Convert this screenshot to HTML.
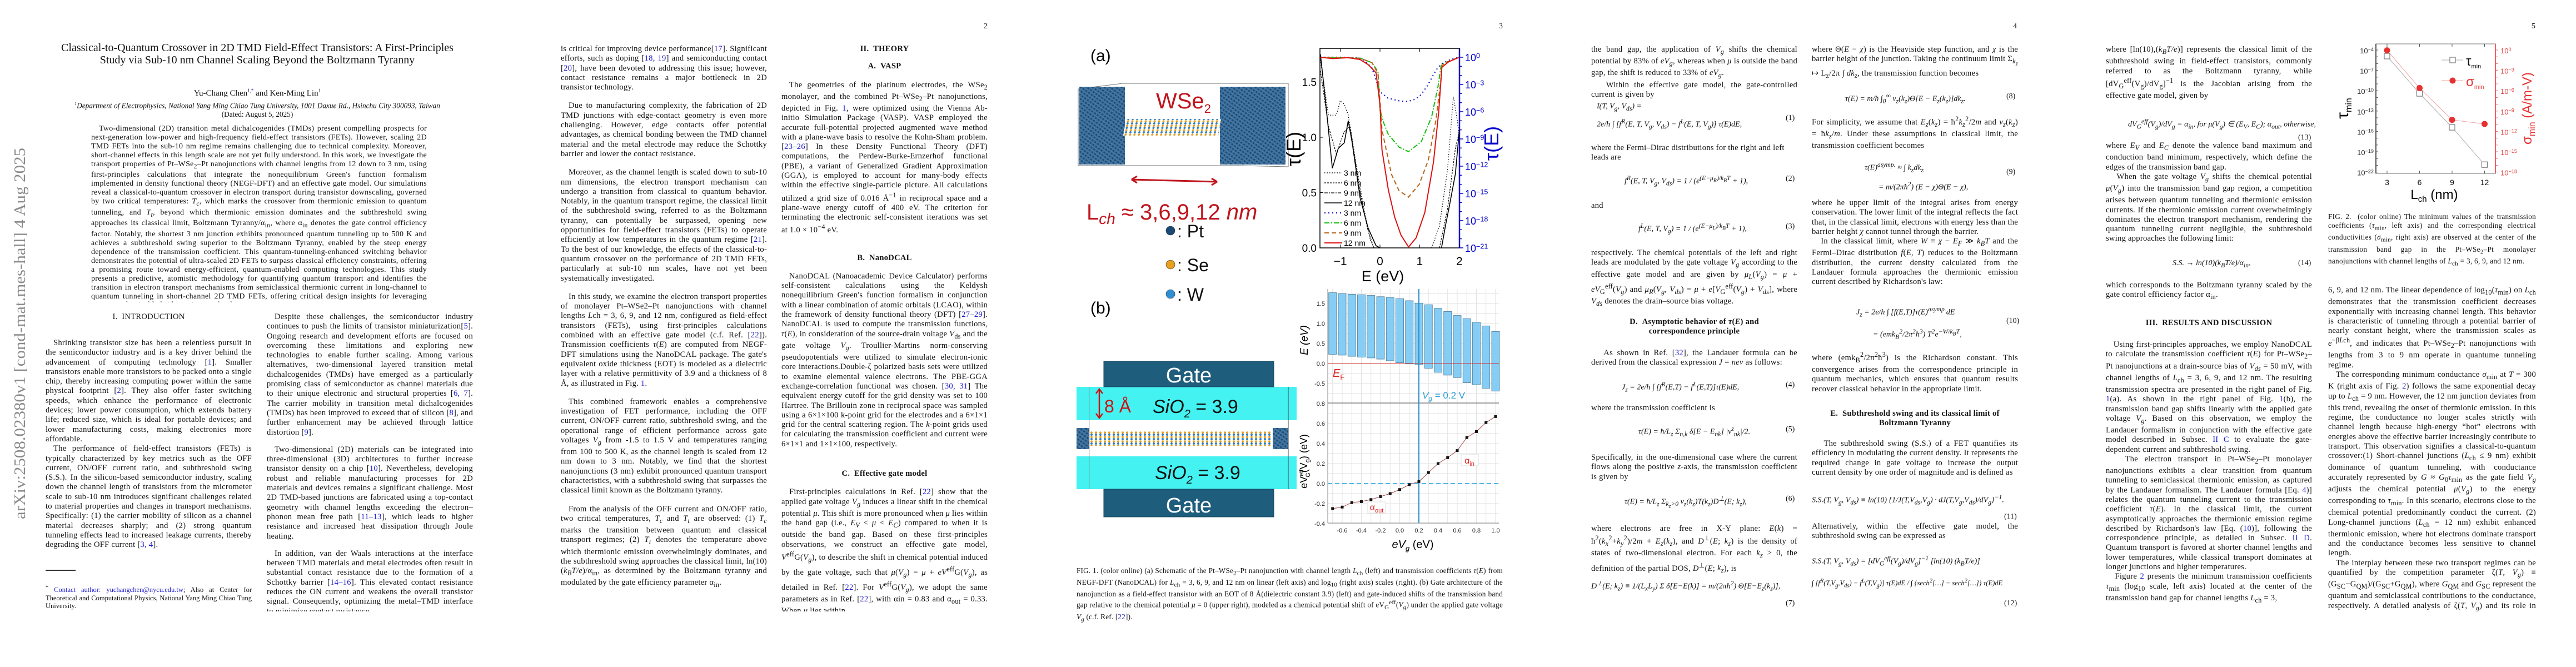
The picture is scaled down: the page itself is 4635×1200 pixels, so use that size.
<!DOCTYPE html>
<html><head><meta charset="utf-8">
<style>
html,body{margin:0;padding:0;background:#fff;}
body{width:4635px;height:1200px;position:relative;overflow:hidden;font-family:"Liberation Serif",serif;color:#111;}
.col{position:absolute;width:371px;font-size:14.6px;letter-spacing:0.25px;line-height:17.3px;text-align:justify;hyphens:auto;overflow:hidden;}
.col p{margin:0;text-indent:14px;}
.col p.ni{text-indent:0;}
.h{text-align:center;font-weight:bold;text-indent:0 !important;}
.abs{position:absolute;font-size:14.6px;letter-spacing:0.25px;line-height:17.3px;}
.eq{position:absolute;font-style:italic;font-size:14px;white-space:nowrap;}
.num{position:absolute;font-size:14px;}
a,.ref{color:#1a1acc;}
.pn{position:absolute;top:40px;font-size:14px;}
svg text{font-family:"Liberation Sans",sans-serif;}
</style></head>
<body>

<div style="position:absolute;left:17px;top:264px;width:34px;height:670px;">
<svg width="34" height="670" style="position:absolute;left:0;top:0"><text transform="translate(28,670) rotate(-90)" font-size="29" fill="#8a8a8a" textLength="668" lengthAdjust="spacingAndGlyphs" style="font-family:'Liberation Serif',serif">arXiv:2508.02380v1  [cond-mat.mes-hall]  4 Aug 2025</text></svg>
</div>

<div style="position:absolute;left:100px;top:76px;width:726px;text-align:center;font-size:20px;line-height:21.5px;">Classical-to-Quantum Crossover in 2D TMD Field-Effect Transistors: A First-Principles Study via Sub-10 nm Channel Scaling Beyond the Boltzmann Tyranny</div>
<div style="position:absolute;left:100px;top:158px;width:726px;text-align:center;font-size:15px;">Yu-Chang Chen<sup style="font-size:9px">1,<span class="ref">*</span></sup> and Ken-Ming Lin<sup style="font-size:9px">1</sup></div>
<div style="position:absolute;left:60px;top:182px;width:806px;text-align:center;font-size:13.3px;font-style:italic;"><sup style="font-size:8px">1</sup>Department of Electrophysics, National Yang Ming Chiao Tung University, 1001 Daxue Rd., Hsinchu City 300093, Taiwan</div>
<div style="position:absolute;left:100px;top:198px;width:726px;text-align:center;font-size:13.3px;">(Dated: August 5, 2025)</div>
<div style="position:absolute;left:164px;top:224px;width:604px;font-size:14px;letter-spacing:0.3px;line-height:15.9px;text-align:justify;text-indent:14px;height:320px;overflow:hidden;">Two-dimensional (2D) transition metal dichalcogenides (TMDs) present compelling prospects for next-generation low-power and high-frequency field-effect transistors (FETs). However, scaling 2D TMD FETs into the sub-10 nm regime remains challenging due to technical complexity. Moreover, short-channel effects in this length scale are not yet fully understood. In this work, we investigate the transport properties of Pt–WSe<sub>2</sub>–Pt nanojunctions with channel lengths from 12 down to 3 nm, using first-principles calculations that integrate the nonequilibrium Green's function formalism implemented in density functional theory (NEGF-DFT) and an effective gate model. Our simulations reveal a classical-to-quantum crossover in electron transport during transistor downscaling, governed by two critical temperatures: <i>T<sub>c</sub></i>, which marks the crossover from thermionic emission to quantum tunneling, and <i>T<sub>t</sub></i>, beyond which thermionic emission dominates and the subthreshold swing approaches its classical limit, Boltzmann Tyranny/α<sub>in</sub>, where α<sub>in</sub> denotes the gate control efficiency factor. Notably, the shortest 3 nm junction exhibits pronounced quantum tunneling up to 500 K and achieves a subthreshold swing superior to the Boltzmann Tyranny, enabled by the steep energy dependence of the transmission coefficient. This quantum-tunneling-enhanced switching behavior demonstrates the potential of ultra-scaled 2D FETs to surpass classical efficiency constraints, offering a promising route toward energy-efficient, quantum-enabled computing technologies. This study presents a predictive, atomistic methodology for quantifying quantum transport and identifies the transition in electron transport mechanisms from semiclassical thermionic current in long-channel to quantum tunneling in short-channel 2D TMD FETs, offering critical design insights for leveraging quantum-classical hybrid transistor technology.</div>

<div class="abs" style="left:82px;top:562px;width:371px;text-align:center;">I.&nbsp;&nbsp;INTRODUCTION</div>

<div class="col" style="left:82px;top:609px;height:398px;">
<p>Shrinking transistor size has been a relentless pursuit in the semiconductor industry and is a key driver behind the advancement of computing technology [<span class="ref">1</span>]. Smaller transistors enable more transistors to be packed onto a single chip, thereby increasing computing power within the same physical footprint [<span class="ref">2</span>]. They also offer faster switching speeds, which enhance the performance of electronic devices; lower power consumption, which extends battery life; reduced size, which is ideal for portable devices; and lower manufacturing costs, making electronics more affordable.</p>
<p>The performance of field-effect transistors (FETs) is typically characterized by key metrics such as the OFF current, ON/OFF current ratio, and subthreshold swing (S.S.). In the silicon-based semiconductor industry, scaling down the channel length of transistors from the micrometer scale to sub-10 nm introduces significant challenges related to material properties and changes in transport mechanisms. Specifically: (1) the carrier mobility of silicon as a channel material decreases sharply; and (2) strong quantum tunneling effects lead to increased leakage currents, thereby degrading the OFF current [<span class="ref">3, 4</span>].</p>
</div>
<div style="position:absolute;left:82px;top:1025px;width:54px;height:2px;background:#333;"></div>
<div style="position:absolute;left:82px;top:1051px;width:371px;font-size:12.5px;line-height:14.5px;text-align:justify;"><sup>*</sup> <span class="ref">Contact author: yuchangchen@nycu.edu.tw</span>; Also at Center for Theoretical and Computational Physics, National Yang Ming Chiao Tung University.</div>

<div class="col" style="left:480px;top:562px;height:538px;">
<p>Despite these challenges, the semiconductor industry continues to push the limits of transistor miniaturization[<span class="ref">5</span>]. Ongoing research and development efforts are focused on overcoming these limitations and exploring new technologies to enable further scaling. Among various alternatives, two-dimensional layered transition metal dichalcogenides (TMDs) have emerged as a particularly promising class of semiconductor as channel materials due to their unique electronic and structural properties [<span class="ref">6, 7</span>]. The carrier mobility in transition metal dichalcogenides (TMDs) has been improved to exceed that of silicon [<span class="ref">8</span>], and further enhancement may be achieved through lattice distortion [<span class="ref">9</span>].</p>
<p style="margin-top:14px">Two-dimensional (2D) materials can be integrated into three-dimensional (3D) architectures to further increase transistor density on a chip [<span class="ref">10</span>]. Nevertheless, developing robust and reliable manufacturing processes for 2D materials and devices remains a significant challenge. Most 2D TMD-based junctions are fabricated using a top-contact geometry with channel lengths exceeding the electron–phonon mean free path [<span class="ref">11–13</span>], which leads to higher resistance and increased heat dissipation through Joule heating.</p>
<p style="margin-top:14px">In addition, van der Waals interactions at the interface between TMD materials and metal electrodes often result in substantial contact resistance due to the formation of a Schottky barrier [<span class="ref">14–16</span>]. This elevated contact resistance reduces the ON current and weakens the overall transistor signal. Consequently, optimizing the metal–TMD interface to minimize contact resistance</p>
</div>

<div class="col" style="left:1009px;top:80px;height:1020px;">
<p class="ni">is critical for improving device performance[<span class="ref">17</span>]. Significant efforts, such as doping [<span class="ref">18, 19</span>] and semiconducting contact [<span class="ref">20</span>], have been devoted to addressing this issue; however, contact resistance remains a major bottleneck in 2D transistor technology.</p>
<p style="margin-top:16px">Due to manufacturing complexity, the fabrication of 2D TMD junctions with edge-contact geometry is even more challenging. However, edge contacts offer potential advantages, as chemical bonding between the TMD channel material and the metal electrode may reduce the Schottky barrier and lower the contact resistance.</p>
<p style="margin-top:16px">Moreover, as the channel length is scaled down to sub-10 nm dimensions, the electron transport mechanism can undergo a transition from classical to quantum behavior. Notably, in the quantum transport regime, the classical limit of the subthreshold swing, referred to as the Boltzmann tyranny, can potentially be surpassed, opening new opportunities for field-effect transistors (FETs) to operate efficiently at low temperatures in the quantum regime [<span class="ref">21</span>]. To the best of our knowledge, the effects of the classical-to-quantum crossover on the performance of 2D TMD FETs, particularly at sub-10 nm scales, have not yet been systematically investigated.</p>
<p style="margin-top:16px">In this study, we examine the electron transport properties of monolayer Pt–WSe2–Pt nanojunctions with channel lengths <i>L</i>ch = 3, 6, 9, and 12 nm, configured as field-effect transistors (FETs), using first-principles calculations combined with an effective gate model (c.f. Ref. [<span class="ref">22</span>]). Transmission coefficients <i>τ</i>(<i>E</i>) are computed from NEGF-DFT simulations using the NanoDCAL package. The gate's equivalent oxide thickness (EOT) is modeled as a dielectric layer with a relative permittivity of 3.9 and a thickness of 8 Å, as illustrated in Fig. <span class="ref">1</span>.</p>
<p style="margin-top:16px">This combined framework enables a comprehensive investigation of FET performance, including the OFF current, ON/OFF current ratio, subthreshold swing, and the operational range of efficient performance across gate voltages <i>V<sub>g</sub></i> from -1.5 to 1.5 V and temperatures ranging from 100 to 500 K, as the channel length is scaled from 12 nm down to 3 nm. Notably, we find that the shortest nanojunctions (3 nm) exhibit pronounced quantum transport characteristics, with a subthreshold swing that surpasses the classical limit known as the Boltzmann tyranny.</p>
<p style="margin-top:16px">From the analysis of the OFF current and ON/OFF ratio, two critical temperatures, <i>T<sub>c</sub></i> and <i>T<sub>t</sub></i> are observed: (1) <i>T<sub>c</sub></i> marks the transition between quantum and classical transport regimes; (2) <i>T<sub>t</sub></i> denotes the temperature above which thermionic emission overwhelmingly dominates, and the subthreshold swing approaches the classical limit, ln(10)(<i>k<sub>B</sub>T/e</i>)/α<sub>in</sub>, as determined by the Boltzmann tyranny and modulated by the gate efficiency parameter α<sub>in</sub>.</p>
</div>

<div class="pn" style="left:1770px;">2</div>
<div class="col" style="left:1406px;top:80px;height:1020px;">
<p class="h">II.&nbsp;&nbsp;THEORY</p>
<p class="h" style="margin-top:14px;">A.&nbsp;&nbsp;VASP</p>
<p style="margin-top:16px">The geometries of the platinum electrodes, the WSe<sub>2</sub> monolayer, and the combined Pt–WSe<sub>2</sub>–Pt nanojunctions, depicted in Fig. <span class="ref">1</span>, were optimized using the Vienna Ab-initio Simulation Package (VASP). VASP employed the accurate full-potential projected augmented wave method with a plane-wave basis to resolve the Kohn-Sham problem.[<span class="ref">23–26</span>] In these Density Functional Theory (DFT) computations, the Perdew-Burke-Ernzerhof functional (PBE), a variant of Generalized Gradient Approximation (GGA), is employed to account for many-body effects within the effective single-particle picture. All calculations utilized a grid size of 0.016 Å<sup>−1</sup> in reciprocal space and a plane-wave energy cutoff of 400 eV. The criterion for terminating the electronic self-consistent iterations was set at 1.0 × 10<sup>−4</sup> eV.</p>
<p class="h" style="margin-top:32px;">B.&nbsp;&nbsp;NanoDCAL</p>
<p style="margin-top:16px">NanoDCAL (Nanoacademic Device Calculator) performs self-consistent calculations using the Keldysh nonequilibrium Green's function formalism in conjunction with a linear combination of atomic orbitals (LCAO), within the framework of density functional theory (DFT) [<span class="ref">27–29</span>]. NanoDCAL is used to compute the transmission functions, <i>τ</i>(<i>E</i>), in consideration of the source-drain voltage <i>V</i><sub>ds</sub> and the gate voltage <i>V<sub>g</sub></i>. Troullier-Martins norm-conserving pseudopotentials were utilized to simulate electron-ionic core interactions.Double-ζ polarized basis sets were utilized to examine elemental valence electrons. The PBE-GGA exchange-correlation functional was chosen. [<span class="ref">30, 31</span>] The equivalent energy cutoff for the grid density was set to 100 Hartree. The Brillouin zone in reciprocal space was sampled using a 6×1×100 k-point grid for the electrodes and a 6×1×1 grid for the central scattering region. The <i>k</i>-point grids used for calculating the transmission coefficient and current were 6×1×1 and 1×1×100, respectively.</p>
<p class="h" style="margin-top:36px;">C.&nbsp;&nbsp;Effective gate model</p>
<p style="margin-top:16px">First-principles calculations in Ref. [<span class="ref">22</span>] show that the applied gate voltage <i>V<sub>g</sub></i> induces a linear shift in the chemical potential <i>μ</i>. This shift is more pronounced when <i>μ</i> lies within the band gap (i.e., <i>E<sub>V</sub></i> &lt; <i>μ</i> &lt; <i>E<sub>C</sub></i>) compared to when it is outside the band gap. Based on these first-principles observations, we construct an effective gate model, <i>V</i><sup>eff</sup>G(<i>V<sub>g</sub></i>), to describe the shift in chemical potential induced by the gate voltage, such that <i>μ</i>(<i>V<sub>g</sub></i>) = <i>μ</i> + <i>eV</i><sup>eff</sup>G(<i>V<sub>g</sub></i>), as detailed in Ref. [<span class="ref">22</span>]. For <i>V</i><sup>eff</sup>G(<i>V<sub>g</sub></i>), we adopt the same parameters as in Ref. [<span class="ref">22</span>], with αin = 0.83 and α<sub>out</sub> = 0.33. When <i>μ</i> lies within</p>
</div>

<div class="pn" style="left:2697px;">3</div>
<div class="pn" style="left:3622px;">4</div>
<div class="pn" style="left:4555px;">5</div>

<div style="position:absolute;left:1937px;top:1019px;width:767px;font-size:13.2px;letter-spacing:0.2px;line-height:15.6px;text-align:justify;">FIG. 1. (color online) (a) Schematic of the Pt–WSe<sub>2</sub>–Pt nanojunction with channel length <i>L</i><sub>ch</sub> (left) and transmission coefficients <i>τ</i>(<i>E</i>) from NEGF-DFT (NanoDCAL) for <i>L</i><sub>ch</sub> = 3, 6, 9, and 12 nm on linear (left axis) and log<sub>10</sub> (right axis) scales (right). (b) Gate architecture of the nanojunction as a field-effect transistor with an EOT of 8 Å(dielectric constant 3.9) (left) and gate-induced shifts of the transmission band gap relative to the chemical potential <i>μ</i> = 0 (upper right), modeled as a chemical potential shift of eV<sub>G</sub><sup>eff</sup>(<i>V<sub>g</sub></i>) under the applied gate voltage <i>V<sub>g</sub></i> (c.f. Ref. [<span class="ref">22</span>]).</div>

<div style="position:absolute;left:2863px;top:0;width:371px;height:1200px;">
<div class="abs" style="top:81px;width:371px;text-align:justify;">the band gap, the application of <i>V<sub>g</sub></i> shifts the chemical potential by 83% of <i>eV<sub>g</sub></i>, whereas when <i>μ</i> is outside the band gap, the shift is reduced to 33% of <i>eV<sub>g</sub></i>.<br>&nbsp;&nbsp;&nbsp;Within the effective gate model, the gate-controlled current is given by</div>
<div class="eq" style="left:10px;top:184px;">I(T, V<sub>g</sub>, V<sub>ds</sub>) =</div>
<div class="eq" style="left:10px;top:212px;">2e/h ∫ [f<sup>R</sup>(E, T, V<sub>g</sub>, V<sub>ds</sub>) − f<sup>L</sup>(E, T, V<sub>g</sub>)] τ(E)dE,</div><div class="num" style="left:350px;top:205px;">(1)</div>
<div class="abs" style="top:258px;width:371px;">where the Fermi–Dirac distributions for the right and left leads are</div>
<div class="eq" style="left:60px;top:314px;">f<sup>R</sup>(E, T, V<sub>g</sub>, V<sub>ds</sub>) = 1 / (e<sup>(E−μ<sub>R</sub>)/k<sub>B</sub>T</sup> + 1),</div><div class="num" style="left:350px;top:314px;">(2)</div>
<div class="abs" style="top:362px;">and</div>
<div class="eq" style="left:85px;top:400px;">f<sup>L</sup>(E, T, V<sub>g</sub>) = 1 / (e<sup>(E−μ<sub>L</sub>)/k<sub>B</sub>T</sup> + 1),</div><div class="num" style="left:350px;top:400px;">(3)</div>
<div class="abs" style="top:447px;width:371px;text-align:justify;">respectively. The chemical potentials of the left and right leads are modulated by the gate voltage <i>V<sub>g</sub></i> according to the effective gate model and are given by <i>μ<sub>L</sub></i>(<i>V<sub>g</sub></i>) = <i>μ</i> + <i>eV</i><sub>G</sub><sup>eff</sup>(<i>V<sub>g</sub></i>) and <i>μ<sub>R</sub></i>(<i>V<sub>g</sub></i>, <i>V<sub>ds</sub></i>) = <i>μ</i> + <i>e</i>[<i>V</i><sub>G</sub><sup>eff</sup>(<i>V<sub>g</sub></i>) + <i>V<sub>ds</sub></i>], where <i>V<sub>ds</sub></i> denotes the drain–source bias voltage.</div>
<div class="abs" style="top:571px;width:371px;text-align:center;font-weight:bold;">D.&nbsp;&nbsp;Asymptotic behavior of <i>τ</i>(<i>E</i>) and<br>correspondence principle</div>
<div class="abs" style="top:627px;width:371px;text-align:justify;">&nbsp;&nbsp;&nbsp;As shown in Ref. [<span class="ref">32</span>], the Landauer formula can be derived from the classical expression <i>J</i> = <i>nev</i> as follows:</div>
<div class="eq" style="left:55px;top:685px;">J<sub>z</sub> = 2e/h ∫ [f<sup>R</sup>(E,T) − f<sup>L</sup>(E,T)]τ(E)dE,</div><div class="num" style="left:350px;top:685px;">(4)</div>
<div class="abs" style="top:726px;">where the transmission coefficient is</div>
<div class="eq" style="left:85px;top:765px;">τ(E) = ħ/L<sub>z</sub> Σ<sub>n,k</sub> δ[E − E<sub>nk</sub>] |v<sup>z</sup><sub>nk</sub>|/2.</div><div class="num" style="left:350px;top:765px;">(5)</div>
<div class="abs" style="top:815px;width:371px;text-align:justify;">Specifically, in the one-dimensional case where the current flows along the positive <i>z</i>-axis, the transmission coefficient is given by</div>
<div class="eq" style="left:60px;top:890px;">τ(E) = ħ/L<sub>z</sub> Σ<sub>k<sub>z</sub>&gt;0</sub> v<sub>z</sub>(k<sub>z</sub>)T(k<sub>z</sub>)D<sup>⊥</sup>(E; k<sub>z</sub>),</div><div class="num" style="left:350px;top:890px;">(6)</div>
<div class="abs" style="top:943px;width:371px;text-align:justify;">where electrons are free in X-Y plane: <i>E</i>(<i>k</i>) = ħ<sup>2</sup>(<i>k<sub>x</sub></i><sup>2</sup>+<i>k<sub>y</sub></i><sup>2</sup>)/2<i>m</i> + <i>E<sub>z</sub></i>(<i>k<sub>z</sub></i>), and <i>D</i><sup>⊥</sup>(<i>E</i>; <i>k<sub>z</sub></i>) is the density of states of two-dimensional electron. For each <i>k<sub>z</sub></i> &gt; 0, the definition of the partial DOS, <i>D</i><sup>⊥</sup>(<i>E</i>; <i>k<sub>z</sub></i>), is</div>
<div class="eq" style="left:0px;top:1042px;">D<sup>⊥</sup>(E; k<sub>z</sub>) ≡ 1/(L<sub>x</sub>L<sub>y</sub>) Σ δ[E−E(k)] = m/(2πħ<sup>2</sup>) Θ[E−E<sub>z</sub>(k<sub>z</sub>)],</div><div class="num" style="left:350px;top:1078px;">(7)</div>
</div>

<div style="position:absolute;left:3260px;top:0;width:371px;height:1200px;">
<div class="abs" style="top:81px;width:371px;text-align:justify;">where Θ(<i>E</i> − <i>χ</i>) is the Heaviside step function, and <i>χ</i> is the barrier height of the junction. Taking the continuum limit Σ<sub><i>k<sub>z</sub></i></sub> ↦ L<sub>z</sub>/2π ∫ <i>dk<sub>z</sub></i>, the transmission function becomes</div>
<div class="eq" style="left:60px;top:166px;">τ(E) = m/ħ ∫<sub>0</sub><sup>∞</sup> v<sub>z</sub>(k<sub>z</sub>)Θ[E − E<sub>z</sub>(k<sub>z</sub>)]dk<sub>z</sub>.</div><div class="num" style="left:350px;top:166px;">(8)</div>
<div class="abs" style="top:206px;width:371px;text-align:justify;">For simplicity, we assume that <i>E<sub>z</sub></i>(<i>k<sub>z</sub></i>) = ħ<sup>2</sup><i>k<sub>z</sub></i><sup>2</sup>/2<i>m</i> and <i>v<sub>z</sub></i>(<i>k<sub>z</sub></i>) = ħ<i>k<sub>z</sub></i>/<i>m</i>. Under these assumptions in classical limit, the transmission coefficient becomes</div>
<div class="eq" style="left:95px;top:290px;">τ(E)<sup>asymp.</sup> ≈ ∫ k<sub>z</sub>dk<sub>z</sub></div><div class="num" style="left:350px;top:302px;">(9)</div>
<div class="eq" style="left:120px;top:325px;">= m/(2πħ<sup>2</sup>) (E − χ)Θ(E − χ),</div>
<div class="abs" style="top:357px;width:371px;text-align:justify;">where he upper limit of the integral arises from energy conservation. The lower limit of the integral reflects the fact that, in the classical limit, electrons with energy less than the barrier height <i>χ</i> cannot tunnel through the barrier.<br>&nbsp;&nbsp;&nbsp;In the classical limit, where <i>W</i> ≡ <i>χ</i> − <i>E<sub>F</sub></i> ≫ <i>k<sub>B</sub>T</i> and the Fermi–Dirac distribution <i>f</i>(<i>E</i>, <i>T</i>) reduces to the Boltzmann distribution, the current density calculated from the Landauer formula approaches the thermionic emission current described by Richardson's law:</div>
<div class="eq" style="left:80px;top:550px;">J<sub>z</sub> = 2e/h ∫ [f(E,T)]τ(E)<sup>asymp.</sup>dE</div><div class="num" style="left:350px;top:570px;">(10)</div>
<div class="eq" style="left:110px;top:590px;">= (emk<sub>B</sub><sup>2</sup>/2π<sup>2</sup>ħ<sup>3</sup>) T<sup>2</sup>e<sup>−W/k<sub>B</sub>T</sup>,</div>
<div class="abs" style="top:630px;width:371px;text-align:justify;">where (emk<sub>B</sub><sup>2</sup>/2π<sup>2</sup>ħ<sup>3</sup>) is the Richardson constant. This convergence arises from the correspondence principle in quantum mechanics, which ensures that quantum results recover classical behavior in the appropriate limit.</div>
<div class="abs" style="top:736px;width:371px;text-align:center;font-weight:bold;">E.&nbsp;&nbsp;Subthreshold swing and its classical limit of<br>Boltzmann Tyranny</div>
<div class="abs" style="top:790px;width:371px;text-align:justify;">&nbsp;&nbsp;&nbsp;The subthreshold swing (S.S.) of a FET quantifies its efficiency in modulating the current density. It represents the required change in gate voltage to increase the output current density by one order of magnitude and is defined as</div>
<div class="eq" style="left:0px;top:888px;">S.S.(T, V<sub>g</sub>, V<sub>ds</sub>) ≡ ln(10) {1/J(T,V<sub>ds</sub>,V<sub>g</sub>) · dJ(T,V<sub>g</sub>,V<sub>ds</sub>)/dV<sub>g</sub>}<sup>−1</sup>.</div><div class="num" style="left:346px;top:922px;">(11)</div>
<div class="abs" style="top:939px;width:371px;text-align:justify;">Alternatively, within the effective gate model, the subthreshold swing can be expressed as</div>
<div class="eq" style="left:0px;top:998px;">S.S.(T, V<sub>g</sub>, V<sub>ds</sub>) = [dV<sub>G</sub><sup>eff</sup>(V<sub>g</sub>)/dV<sub>g</sub>]<sup>−1</sup> [ln(10) (k<sub>B</sub>T/e)]</div>
<div class="eq" style="left:0px;top:1040px;font-size:12.5px;">∫ [f<sup>R</sup>(T,V<sub>g</sub>,V<sub>ds</sub>) − f<sup>L</sup>(T,V<sub>g</sub>)] τ(E)dE / ∫ {sech<sup>2</sup>[…] − sech<sup>2</sup>[…]} τ(E)dE</div><div class="num" style="left:346px;top:1078px;">(12)</div>
</div>

<div style="position:absolute;left:3789px;top:0;width:371px;height:1200px;">
<div class="abs" style="top:81px;width:371px;text-align:justify;">where [ln(10),(<i>k<sub>B</sub>T/e</i>)] represents the classical limit of the subthreshold swing in field-effect transistors, commonly referred to as the Boltzmann tyranny, while [dV<sub>G</sub><sup>eff</sup>(V<sub>g</sub>)/dV<sub>g</sub>]<sup>−1</sup> is the Jacobian arising from the effective gate model, given by</div>
<div class="eq" style="left:40px;top:212px;">dV<sub>G</sub><sup>eff</sup>(V<sub>g</sub>)/dV<sub>g</sub> = α<sub>in</sub>, for μ(V<sub>g</sub>) ∈ (E<sub>V</sub>, E<sub>C</sub>); α<sub>out</sub>, otherwise,</div><div class="num" style="left:346px;top:240px;">(13)</div>
<div class="abs" style="top:254px;width:371px;text-align:justify;">where <i>E<sub>V</sub></i> and <i>E<sub>C</sub></i> denote the valence band maximum and conduction band minimum, respectively, which define the edges of the transmission band gap.<br>&nbsp;&nbsp;&nbsp;When the gate voltage <i>V<sub>g</sub></i> shifts the chemical potential <i>μ</i>(<i>V<sub>g</sub></i>) into the transmission band gap region, a competition arises between quantum tunneling and thermionic emission currents. If the thermionic emission current overwhelmingly dominates the electron transport mechanism, rendering the quantum tunneling current negligible, the subthreshold swing approaches the following limit:</div>
<div class="eq" style="left:120px;top:466px;">S.S. → ln(10)(k<sub>B</sub>T/e)/α<sub>in</sub>,</div><div class="num" style="left:346px;top:466px;">(14)</div>
<div class="abs" style="top:505px;width:371px;text-align:justify;">which corresponds to the Boltzmann tyranny scaled by the gate control efficiency factor α<sub>in</sub>.</div>
<div class="abs" style="top:573px;width:371px;text-align:center;font-weight:bold;">III.&nbsp;&nbsp;RESULTS AND DISCUSSION</div>
<div class="abs" style="top:612px;width:371px;height:485px;overflow:hidden;text-align:justify;">&nbsp;&nbsp;&nbsp;Using first-principles approaches, we employ NanoDCAL to calculate the transmission coefficient <i>τ</i>(<i>E</i>) for Pt–WSe<sub>2</sub>–Pt nanojunctions at a drain-source bias of <i>V<sub>ds</sub></i> = 50 mV, with channel lengths of <i>L</i><sub>ch</sub> = 3, 6, 9, and 12 nm. The resulting transmission spectra are presented in the right panel of Fig. <span class="ref">1</span>(a). As shown in the right panel of Fig. <span class="ref">1</span>(b), the transmission band gap shifts linearly with the applied gate voltage <i>V<sub>g</sub></i>. Based on this observation, we employ the Landauer formalism in conjunction with the effective gate model described in Subsec. <span class="ref">II C</span> to evaluate the gate-dependent current and subthreshold swing.<br>&nbsp;&nbsp;&nbsp;The electron transport in Pt–WSe<sub>2</sub>–Pt monolayer nanojunctions exhibits a clear transition from quantum tunneling to semiclassical thermionic emission, as captured by the Landauer formalism. The Landauer formula [Eq. <span class="ref">4</span>)] relates the quantum tunneling current to the transmission coefficient <i>τ</i>(<i>E</i>). In the classical limit, the current asymptotically approaches the thermionic emission regime described by Richardson's law [Eq. (<span class="ref">10</span>)], following the correspondence principle, as detailed in Subsec. <span class="ref">II D</span>. Quantum transport is favored at shorter channel lengths and lower temperatures, while classical transport dominates at longer junctions and higher temperatures.<br>&nbsp;&nbsp;&nbsp;Figure <span class="ref">2</span> presents the minimum transmission coefficients <i>τ</i><sub>min</sub> (log<sub>10</sub> scale, left axis) located at the center of the transmission band gap for channel lengths <i>L</i><sub>ch</sub> = 3,</div>
</div>

<div style="position:absolute;left:4189px;top:382px;width:374px;font-size:13.2px;letter-spacing:0.3px;line-height:15.8px;text-align:justify;">FIG. 2.&nbsp;&nbsp;(color online) The minimum values of the transmission coefficients (<i>τ</i><sub>min</sub>, left axis) and the corresponding electrical conductivities (<i>σ</i><sub>min</sub>, right axis) are observed at the center of the transmission band gap in the Pt–WSe<sub>2</sub>–Pt monolayer nanojunctions with channel lengths of <i>L</i><sub>ch</sub> = 3, 6, 9, and 12 nm.</div>
<div class="col" style="left:4189px;top:514px;width:374px;height:586px;">
<p class="ni">6, 9, and 12 nm. The linear dependence of log<sub>10</sub>(<i>τ</i><sub>min</sub>) on <i>L</i><sub>ch</sub> demonstrates that the transmission coefficient decreases exponentially with increasing channel length. This behavior is characteristic of tunneling through a potential barrier of nearly constant height, where the transmission scales as <i>e</i><sup>−β<i>L</i>ch</sup>, and indicates that Pt–WSe<sub>2</sub>–Pt nanojunctions with lengths from 3 to 9 nm operate in quantume tunneling regime.</p>
<p>The corresponding minimum conductance <i>σ</i><sub>min</sub> at <i>T</i> = 300 K (right axis of Fig. <span class="ref">2</span>) follows the same exponential decay up to <i>L</i><sub>ch</sub> = 9 nm. However, the 12 nm junction deviates from this trend, revealing the onset of thermionic emission. In this regime, the conductance no longer scales strictly with channel length because high-energy “hot” electrons with energies above the effective barrier increasingly contribute to transport. This observation signifies a classical-to-quantum crossover:(1) Short-channel junctions (<i>L</i><sub>ch</sub> ≤ 9 nm) exhibit dominance of quantum tunneling, with conductance accurately represented by <i>G</i> ≈ <i>G</i><sub>0</sub><i>τ</i><sub>min</sub> as the gate field <i>V<sub>g</sub></i> adjusts the chemical potential <i>μ</i>(<i>V<sub>g</sub></i>) to the energy corresponding to <i>τ</i><sub>min</sub>. In this scenario, electrons close to the chemical potential predominantly conduct the current. (2) Long-channel junctions (<i>L</i><sub>ch</sub> = 12 nm) exhibit enhanced thermionic emission, where hot electrons dominate transport and the conductance becomes less sensitive to channel length.</p>
<p>The interplay between these two transport regimes can be quantified by the competition parameter ζ(<i>T</i>, <i>V<sub>g</sub></i>) ≡ (G<sub>SC</sub>−G<sub>QM</sub>)/(G<sub>SC</sub>+G<sub>QM</sub>), where <i>G</i><sub>QM</sub> and <i>G</i><sub>SC</sub> represent the quantum and semiclassical contributions to the conductance, respectively. A detailed analysis of ζ(<i>T</i>, <i>V<sub>g</sub></i>) and its role in thermoelectric optimization can be found in</p>
</div>

<svg id="figs" width="4635" height="1200" style="position:absolute;left:0;top:0;pointer-events:none;" xmlns="http://www.w3.org/2000/svg">
<defs>
<pattern id="ptpat" width="6" height="6" patternUnits="userSpaceOnUse" patternTransform="rotate(35)">
<rect width="6" height="6" fill="#3c6e9a"/><circle cx="3" cy="3" r="1.6" fill="#1a4a75"/><line x1="0" y1="0" x2="6" y2="0" stroke="#6d95bb" stroke-width="0.8"/>
</pattern>
<pattern id="chainpat" width="8" height="8" patternUnits="userSpaceOnUse">
<rect width="8" height="8" fill="#ffffff"/><circle cx="4" cy="2.2" r="2" fill="#e8a020"/><circle cx="4" cy="6" r="2" fill="#2f7fbf"/>
</pattern>
</defs>
</svg>

<script>
const eTau3 = [-1.5,-1.0,-0.6,-0.4,-0.2,-0.1,0,0.2,0.48,0.69,0.9,1.04,1.2,1.35,1.45,1.56,1.8,2.0];
const logTau3 = [0,0,-0.05,-0.3,-1.2,-2.5,-3.8,-4.5,-4.8,-4.9,-4.6,-4.1,-3.1,-1.9,-1.2,-0.7,-0.2,0];
const eTau6 = [-1.5,-0.5,-0.2,-0.05,0,0.1,0.21,0.48,0.72,1.04,1.3,1.46,1.54,1.7,2.0];
const logTau6 = [0,-0.1,-0.6,-1.6,-5.8,-7.3,-8.5,-9.9,-10.4,-9.3,-6.6,-3.3,-0.9,-0.5,0];
const eTau9 = [-1.5,-0.5,-0.2,-0.05,0.05,0.29,0.48,0.72,0.99,1.22,1.41,1.53,1.56,1.7,2.0];
const logTau9 = [0,-0.1,-0.6,-1.8,-8.0,-12.9,-14.7,-15.4,-14.0,-11.3,-6.9,-2.7,-0.9,-0.5,0];
const eTau12 = [-1.5,-1.2,-0.8,-0.5,-0.3,-0.1,0,0.05,0.21,0.37,0.53,0.72,0.91,1.13,1.35,1.48,1.56,1.73,2.0];
const logTau12 = [0,-0.15,-0.05,-0.25,-0.8,-1.7,-5.2,-10.2,-14.6,-17.6,-19.6,-20.9,-19.9,-17.1,-11.5,-6.0,-1.1,-0.5,0];
const eLin3a = [-1.5,-1.3,-1.1,-1.0,-0.9,-0.8,-0.6,-0.4,-0.25,-0.15];
const linTau3a = [1.7,1.2,1.2,1.33,1.3,1.2,0.75,0.35,0.08,0];
const eLin3b = [1.3,1.5,1.7,1.85,1.95,2.0];
const linTau3b = [0,0.2,0.7,1.37,1.15,1.0];
const eLin6a = [-1.5,-1.3,-1.1,-0.9,-0.75,-0.5,-0.3,-0.15];
const linTau6a = [1.6,1.1,0.85,1.05,1.1,0.5,0.15,0];
const eLin6b = [1.5,1.7,1.9,2.0];
const linTau6b = [0,0.35,0.9,1.05];
const eLin12a = [-1.5,-1.35,-1.2,-1.05,-0.9,-0.8,-0.7,-0.5,-0.3,-0.1,0];
const linTau12a = [1.75,1.25,0.72,0.9,0.95,1.15,0.95,0.45,0.18,0.02,0];
const eLin12b = [1.55,1.65,1.75,1.9,2.0];
const linTau12b = [0,0.2,0.38,0.67,1.07];
const tauXTicks = [-1,0,1,2];
const tauYTicks = [0,0.5,1.0,1.5];
const tauLogTicks = [0,-3,-6,-9,-12,-15,-18,-21];

const gateVg = [-0.7,-0.6,-0.5,-0.4,-0.3,-0.2,-0.1,0.0,0.1,0.2,0.3,0.4,0.5,0.6,0.7,0.8,0.9,1.0];
const gapTop = [1.77,1.75,1.73,1.72,1.70,1.67,1.65,1.62,1.57,1.51,1.47,1.38,1.30,1.20,1.12,1.03,0.94,0.80];
const gapBottom = [0.23,0.21,0.18,0.16,0.14,0.11,0.07,0.02,-0.01,-0.03,-0.12,-0.22,-0.29,-0.35,-0.48,-0.53,-0.62,-0.69];
const effShift = [-0.25,-0.235,-0.19,-0.18,-0.16,-0.13,-0.10,-0.06,-0.01,0.02,0.11,0.20,0.26,0.33,0.46,0.52,0.61,0.67];
const vgTicks = [-0.6,-0.4,-0.2,0.0,0.2,0.4,0.6,0.8,1.0];
const bandTicks = [1.5,1.0,0.5,0.0,-0.5];
const shiftTicks = [0.8,0.6,0.4,0.2,0.0,-0.2,-0.4];

const lchValues = [3,6,9,12];
const logTauMin = [-4.9,-10.4,-15.4,-20.9];
const logSigmaMin = [-0.05,-5.6,-10.3,-10.9];
const lchTicks = [3,6,9,12];
const tauMinTicks = [-4,-7,-10,-13,-16,-19,-22];
const sigmaTicks = [0,-3,-6,-9,-12,-15,-18];

const NS = 'http://www.w3.org/2000/svg';
const svg = document.getElementById('figs');
function mk(tag, attrs, parent){ const e=document.createElementNS(NS,tag); for(const k in attrs) e.setAttribute(k,attrs[k]); (parent||svg).appendChild(e); return e; }
function txt(x,y,s,size,fill,anchor,parent,extra){ const t=mk('text',Object.assign({x:x,y:y,'font-size':size,fill:fill||'#000','text-anchor':anchor||'middle'},extra||{}),parent); t.innerHTML=s; return t; }
function sup(s){ return '<tspan dy="-0.45em" font-size="0.7em">'+s+'</tspan>'; }
function pathFrom(xs,ys,fx,fy){ return xs.map((v,i)=>(i?'L':'M')+fx(v).toFixed(1)+','+fy(ys[i]).toFixed(1)).join(''); }

const gA = mk('g',{});


let t = txt(1962,110,'(a)',30,'#000','start',gA);


let r = mk('path',{d:'M1940,160 L2020,150 L2318,150 L2318,300 L2230,298 L1940,298 Z',fill:'none',stroke:'#777','stroke-width':1},gA);


r = mk('rect',{x:1942,y:156,width:82,height:140,fill:'url(#ptpat)'},gA);


r = mk('rect',{x:2195,y:156,width:118,height:140,fill:'url(#ptpat)'},gA);


r = mk('rect',{x:2024,y:214,width:171,height:30,fill:'url(#chainpat)',transform:'skewX(-10) translate(40,0)'},gA);


t = txt(2080,195,'WSe<tspan dy="8" font-size="22">2</tspan>',40,'#c0141c','start',gA);


r = mk('path',{d:'M2036,323 L2190,327 M2036,323 l10,-6 M2036,323 l10,6 M2190,327 l-10,-6 M2190,327 l-10,6',stroke:'#c0141c','stroke-width':3,fill:'none'},gA);


t = txt(1955,395,'L<tspan dy="8" font-size="28" font-style="italic">ch</tspan><tspan dy="-8"> ≈ 3,6,9,12</tspan><tspan font-style="italic"> nm</tspan>',40,'#c0141c','start',gA);


const atomLegend = [['Pt','#1a4a75',425],['Se','#e8a020',486],['W','#2f8fd0',539]];
atomLegend.forEach(a=>{
  const c = mk('circle',{cx:2106,cy:a[2]-10,r:8,fill:a[1],stroke:'#333','stroke-width':0.6},gA);
  
  
  const tt = txt(2118,a[2]+2,': '+a[0],32,'#111','start',gA);
  
  
});
t = txt(1962,564,'(b)',30,'#000','start',gA);



const gG = mk('g',{});


r = mk('rect',{x:1937,y:696,width:396,height:184,fill:'#44f2f2'},gG);


r = mk('rect',{x:1937,y:756,width:396,height:65,fill:'#ffffff'},gG);


r = mk('rect',{x:1960,y:776,width:330,height:26,fill:'url(#chainpat)'},gG);


r = mk('rect',{x:1937,y:770,width:23,height:38,fill:'url(#ptpat)'},gG);


r = mk('rect',{x:2290,y:770,width:28,height:38,fill:'url(#ptpat)'},gG);


mk('line',{x1:2318,y1:696,x2:2318,y2:880,stroke:'#444','stroke-width':1},gG);
mk('line',{x1:1960,y1:696,x2:1960,y2:880,stroke:'#888','stroke-width':0.6},gG);
r = mk('rect',{x:1986,y:650,width:306,height:46,fill:'#1f5d7c',stroke:'#174860'},gG);


r = mk('rect',{x:1986,y:880,width:306,height:50,fill:'#1f5d7c',stroke:'#174860'},gG);


t = txt(2139,688,'Gate',38,'#fff','middle',gG);  
t = txt(2139,922,'Gate',38,'#fff','middle',gG);  
t = txt(2074,743,'SiO<tspan dy="8" font-size="20">2</tspan><tspan dy="-8" font-style="normal"> = 3.9</tspan>',34,'#111','start',gG,{'font-style':'italic'});
 
t = txt(2078,862,'SiO<tspan dy="8" font-size="20">2</tspan><tspan dy="-8" font-style="normal"> = 3.9</tspan>',34,'#111','start',gG,{'font-style':'italic'});
 
r = mk('path',{d:'M1978,700 L1978,752 M1972,708 l6,-8 l6,8 M1972,744 l6,8 l6,-8',stroke:'#d01010','stroke-width':2.5,fill:'none'},gG);
 
t = txt(1987,742,'8 Å',32,'#d01010','start',gG);  

const tx0=2375, tx1=2626, ty0=87, ty1=446;
const xE = e => 2483 + e*71.4;
const yLin = v => 446 - v*199;
const yLog = l => 103 - l*16.33;
const gT = mk('g',{});


r = mk('rect',{x:tx0,y:ty0,width:tx1-tx0,height:ty1-ty0,fill:'none',stroke:'#000','stroke-width':1.5},gT);
 
mk('line',{x1:tx1,y1:ty0,x2:tx1,y2:ty1,stroke:'#0000cc','stroke-width':2.5},gT);
tauXTicks.forEach(v=>{
  mk('line',{x1:xE(v),y1:ty1,x2:xE(v),y2:ty1-6,stroke:'#000'},gT);
  mk('line',{x1:xE(v),y1:ty0,x2:xE(v),y2:ty0+6,stroke:'#000'},gT);
  const l = txt(xE(v),477,v===-1?'−1':String(v),21,'#000','middle',gT);
   
});
tauYTicks.forEach(v=>{
  mk('line',{x1:tx0,y1:yLin(v),x2:tx0+6,y2:yLin(v),stroke:'#000'},gT);
  const l = txt(tx0-6,yLin(v)+7,v.toFixed(1),19,'#000','end',gT);
   
});
for(let d=0; d>=-21; d--){ mk('line',{x1:tx1,y1:yLog(d),x2:tx1+(d%3===0?7:4),y2:yLog(d),stroke:'#0000cc','stroke-width':1.5},gT); }
tauLogTicks.forEach(v=>{
  const l = txt(tx1+10,yLog(v)+7,'10'+sup(v===0?'0':'−'+(-v)),18,'#0000cc','start',gT);
   
});
t = txt(2488,506,'E (eV)',27,'#000','middle',gT);  
t = txt(0,0,'τ(E)',36,'#000','middle',gT,{transform:'translate(2340,268) rotate(-90)'});  
t = txt(0,0,'τ(E)',36,'#0000cc','middle',gT,{transform:'translate(2696,258) rotate(-90)'});  
const clipT = mk('clipPath',{id:'clipT'},svg); mk('rect',{x:tx0,y:ty0,width:tx1-tx0,height:ty1-ty0},clipT);
const gTc = mk('g',{'clip-path':'url(#clipT)'},gT);
let p;
p = mk('path',{d:pathFrom(eLin3a,linTau3a,xE,yLin),stroke:'#000',fill:'none','stroke-width':1.4,'stroke-dasharray':'1.5,3'},gTc);  
p = mk('path',{d:pathFrom(eLin3b,linTau3b,xE,yLin),stroke:'#000',fill:'none','stroke-width':1.4,'stroke-dasharray':'1.5,3'},gTc);  
p = mk('path',{d:pathFrom(eLin6a,linTau6a,xE,yLin),stroke:'#000',fill:'none','stroke-width':1.2,'stroke-dasharray':'3,2'},gTc);  
p = mk('path',{d:pathFrom(eLin6b,linTau6b,xE,yLin),stroke:'#000',fill:'none','stroke-width':1.2,'stroke-dasharray':'3,2'},gTc);  
p = mk('path',{d:pathFrom(eLin12a,linTau12a,xE,yLin),stroke:'#000',fill:'none','stroke-width':1.6},gTc);  
p = mk('path',{d:pathFrom(eLin12b,linTau12b,xE,yLin),stroke:'#000',fill:'none','stroke-width':1.6},gTc);  
p = mk('path',{d:pathFrom(eTau3,logTau3,xE,yLog),stroke:'#1010d0',fill:'none','stroke-width':2.2,'stroke-dasharray':'2,5'},gTc);  
p = mk('path',{d:pathFrom(eTau6,logTau6,xE,yLog),stroke:'#10c010',fill:'none','stroke-width':2,'stroke-dasharray':'9,3,2,3'},gTc);  
p = mk('path',{d:pathFrom(eTau9,logTau9,xE,yLog),stroke:'#b8651a',fill:'none','stroke-width':2,'stroke-dasharray':'8,5'},gTc);  
p = mk('path',{d:pathFrom(eTau12,logTau12,xE,yLog),stroke:'#e01010',fill:'none','stroke-width':2},gTc);  
const legendRows = [['3 nm','#000','1.5,3',1.4],['6 nm','#000','3,2',1.2],['9 nm','#000','6,2,2,2',1.2],['12 nm','#000','none',1.6],['3 nm','#1010d0','2,5',2.2],['6 nm','#10c010','9,3,2,3',2],['9 nm','#b8651a','8,5',2],['12 nm','#e01010','none',2]];
legendRows.forEach((row,i)=>{
  const y = 311 + i*18;
  const ln = mk('line',{x1:2383,y1:y,x2:2415,y2:y,stroke:row[1],'stroke-width':row[3],'stroke-dasharray':row[2]},gT);
   
  const lt = txt(2418,y+5,row[0],14,'#000','start',gT);
   
});

const bx0=2389, bx1=2697;
const xV = v => 2415 + (v+0.6)*172.5;
const yBand = e => 654 - e*72;
const yShift = v => 870 - v*180;
const gB = mk('g',{});


for(let v=-0.7; v<=1.05; v+=0.1){ mk('line',{x1:xV(v),y1:520,x2:xV(v),y2:941,stroke:'#e2e2e2','stroke-width':1},gB); }
[1.75,1.25,0.75,0.25,-0.25,-0.75].concat(bandTicks).forEach(v=>mk('line',{x1:bx0,y1:yBand(v),x2:bx1,y2:yBand(v),stroke:'#e2e2e2'},gB));
[0.7,0.5,0.3,0.1,-0.1,-0.3].concat(shiftTicks).forEach(v=>mk('line',{x1:bx0,y1:yShift(v),x2:bx1,y2:yShift(v),stroke:'#e2e2e2'},gB));
mk('line',{x1:bx0,y1:520,x2:bx0,y2:941,stroke:'#888'},gB);
mk('line',{x1:bx0,y1:725,x2:bx1,y2:725,stroke:'#555'},gB);
mk('line',{x1:bx0,y1:941,x2:bx1,y2:941,stroke:'#888'},gB);
gateVg.forEach((v,i)=>{
  const b = mk('rect',{x:xV(v)-7,y:yBand(gapTop[i]),width:14,height:yBand(gapBottom[i])-yBand(gapTop[i]),fill:'#85cdf5',stroke:'#4a7a96','stroke-width':0.8},gB);
   
});
r = mk('line',{x1:bx0,y1:yBand(0),x2:bx1,y2:yBand(0),stroke:'#d03030','stroke-width':1},gB);
 
t = txt(2398,678,'E<tspan dy="5" font-size="13" font-style="normal">F</tspan>',20,'#e02020','start',gB,{'font-style':'italic'});
 
r = mk('line',{x1:xV(0.2),y1:520,x2:xV(0.2),y2:941,stroke:'#2a90c8','stroke-width':2},gB);
 
t = txt(2559,717,'V<tspan dy="4" font-size="12">g</tspan><tspan dy="-4" font-style="normal"> = 0.2 V</tspan>',17,'#2a9fd6','start',gB,{'font-style':'italic'});
 
r = mk('line',{x1:bx0,y1:yShift(0),x2:bx1,y2:yShift(0),stroke:'#1a9fe0','stroke-width':1.5,'stroke-dasharray':'8,5'},gB);
 
p = mk('path',{d:pathFrom(gateVg,effShift,xV,yShift),stroke:'#a04040',fill:'none','stroke-width':1},gB);
 
gateVg.forEach((v,i)=>{
  const q = mk('rect',{x:xV(v)-2.5,y:yShift(effShift[i])-2.5,width:5,height:5,fill:'#111'},gB);
   
});
bandTicks.forEach(v=>{ const l=txt(2384,yBand(v)+4,v.toFixed(1),11,'#222','end',gB);   });
shiftTicks.forEach(v=>{ const l=txt(2384,yShift(v)+4,v.toFixed(1),11,'#222','end',gB);   });
vgTicks.forEach(v=>{ const l=txt(xV(v),958,v.toFixed(1),11,'#222','middle',gB);   });
t = txt(0,0,'E (eV)',19,'#000','middle',gB,{transform:'translate(2353,612) rotate(-90)','font-style':'italic'});  
t = txt(0,0,'eV<tspan dy="-7" font-size="11">eff</tspan><tspan dy="12" dx="-14" font-size="11">G</tspan><tspan dy="-5">(V</tspan><tspan dy="4" font-size="11">g</tspan><tspan dy="-4">) (eV)</tspan>',18,'#000','middle',gB,{transform:'translate(2352,830) rotate(-90)'});  
t = txt(2542,986,'eV<tspan dy="5" font-size="13">g</tspan><tspan dy="-5" font-style="normal"> (eV)</tspan>',20,'#000','middle',gB,{'font-style':'italic'});  
r = mk('rect',{x:2629,y:818,width:31,height:20,fill:'#fff',stroke:'#ddd'},gB);  
t = txt(2644,834,'α<tspan dy="4" font-size="11">in</tspan>',16,'#e02020','middle',gB);  
r = mk('rect',{x:2461,y:903,width:32,height:20,fill:'#fff',stroke:'#ddd'},gB);  
t = txt(2477,918,'α<tspan dy="4" font-size="11">out</tspan>',16,'#e02020','middle',gB);  

const fx0=4275, fx1=4490, fy0=79, fy1=312;
const xL = l => 4275.5 + (l-2)*19.5;
const yTauMin = l => 90 + (-4 - l)*12.2;
const ySig = l => 90 + (0 - l)*12.2;
const g2 = mk('g',{});


r = mk('rect',{x:fx0,y:fy0,width:fx1-fx0,height:fy1-fy0,fill:'none',stroke:'#888','stroke-width':1.2},g2);
 
mk('line',{x1:fx0,y1:fy0,x2:fx0,y2:fy1,stroke:'#555','stroke-width':2},g2);
mk('line',{x1:fx1,y1:fy0,x2:fx1,y2:fy1,stroke:'#f06060','stroke-width':2},g2);
for(let d=-4; d>=-22; d--){ mk('line',{x1:fx0,y1:yTauMin(d),x2:fx0+4,y2:yTauMin(d),stroke:'#555'},g2); }
for(let d=0; d>=-18; d--){ mk('line',{x1:fx1,y1:ySig(d),x2:fx1+4,y2:ySig(d),stroke:'#f06060'},g2); }
lchTicks.forEach(v=>{
  mk('line',{x1:xL(v),y1:fy1,x2:xL(v),y2:fy1-5,stroke:'#555'},g2);
  mk('line',{x1:xL(v),y1:fy0,x2:xL(v),y2:fy0+5,stroke:'#555'},g2);
  const l = txt(xL(v),333,String(v),14,'#111','middle',g2);  
});
tauMinTicks.forEach(v=>{ const l=txt(fx0-4,yTauMin(v)+6,'10'+sup('−'+(-v)),13,'#333','end',g2);   });
sigmaTicks.forEach(v=>{ const l=txt(fx1+9,ySig(v)+6,'10'+sup(v===0?'0':'−'+(-v)),13,'#e04040','start',g2);   });
p = mk('path',{d:pathFrom(lchValues,logTauMin,xL,yTauMin),stroke:'#aaa',fill:'none','stroke-width':1},g2);  
p = mk('path',{d:pathFrom(lchValues,logSigmaMin,xL,ySig),stroke:'#f3a0a0',fill:'none','stroke-width':1},g2);  
lchValues.forEach((v,i)=>{
  const s = mk('rect',{x:xL(v)-5,y:yTauMin(logTauMin[i])-5,width:10,height:10,fill:'#fff',stroke:'#777','stroke-width':1.2},g2);
   
  const c = mk('circle',{cx:xL(v),cy:ySig(logSigmaMin[i]),r:5.5,fill:'#e83030'},g2);
   
});
mk('line',{x1:4393,y1:108,x2:4432,y2:108,stroke:'#aaa'},g2);
r = mk('rect',{x:4408,y:103,width:10,height:10,fill:'#fff',stroke:'#777','stroke-width':1.2},g2);  
t = txt(4437,118,'τ<tspan dy="5" font-size="11">min</tspan>',24,'#111','start',g2);  
mk('line',{x1:4393,y1:145,x2:4432,y2:145,stroke:'#f3a0a0'},g2);
r = mk('circle',{cx:4413,cy:145,r:5.5,fill:'#e83030'},g2);  
t = txt(4437,155,'σ<tspan dy="5" font-size="11">min</tspan>',24,'#e83030','start',g2);  
t = txt(0,0,'τ<tspan dy="6" font-size="16">min</tspan>',30,'#000','middle',g2,{transform:'translate(4225,195) rotate(-90)'});  
t = txt(0,0,'σ<tspan dy="6" font-size="16">min</tspan><tspan dy="-6"> (A/m-V)</tspan>',24,'#e83030','middle',g2,{transform:'translate(4555,195) rotate(-90)'});  
t = txt(4380,358,'L<tspan dy="5" font-size="15">ch</tspan><tspan dy="-5"> (nm)</tspan>',24,'#000','middle',g2);  
</script>
</body></html>
